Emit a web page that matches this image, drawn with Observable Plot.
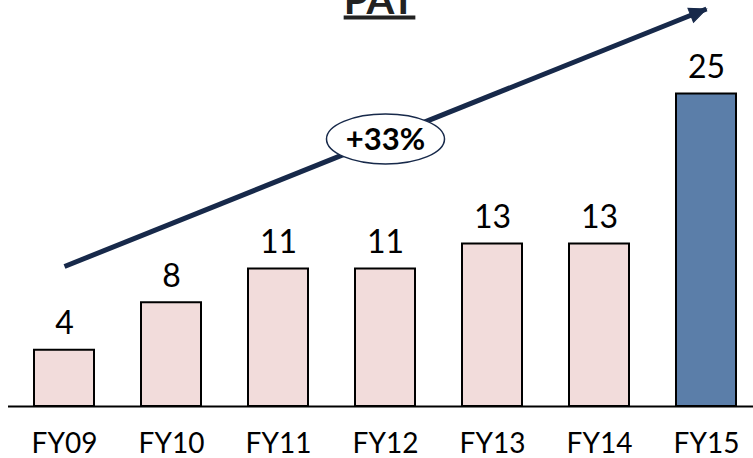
<!DOCTYPE html>
<html>
<head>
<meta charset="utf-8">
<script src="https://cdn.jsdelivr.net/npm/d3@7"></script>
<script src="https://cdn.jsdelivr.net/npm/@observablehq/plot@0.6"></script>
<style>
  html, body { margin: 0; padding: 0; background: #fff; }
  #chart svg { display: block; }
</style>
</head>
<body>
<div id="chart"></div>
<script>
// Data
const years = ["FY09", "FY10", "FY11", "FY12", "FY13", "FY14", "FY15"];
const pat = [4.5, 8.3, 11, 11, 13, 13, 25];
const patLabels = ["4", "8", "11", "11", "13", "13", "25"];
const highlightYear = "FY15";
const titleText = "PAT";
const growthText = "+33%";
// Growth arrow annotation (from FY09 to FY15, in PAT units)
const arrowFrom = ["FY09", 11.2];
const arrowTo = ["FY15", 31.8];
const badgePos = ["FY12", 21.4];

const rows = years.map((y, i) => ({year: y, value: pat[i], label: patLabels[i]}));

const navy = "#17294a";
const font = "Lato, 'Open Sans', sans-serif";

const W = 753, H = 458, mL = 8, mR = 0, mT = 0, mB = 52;
const xOpts = {domain: years, range: [9.33, 760.67], paddingInner: 0.44, paddingOuter: 0.22, align: 0.5};
const yOpts = {domain: [0, 32.48], range: [H - mB, mT]};

// angle of the arrow, from the same scales
const xs = Plot.scale({x: {type: "band", ...xOpts}});
const ys = Plot.scale({y: {type: "linear", ...yOpts}});
const bw = xs.bandwidth / 2;
const ax1 = xs.apply(arrowFrom[0]) + bw, ay1 = ys.apply(arrowFrom[1]);
const ax2 = xs.apply(arrowTo[0]) + bw, ay2 = ys.apply(arrowTo[1]);
const angleDeg = Math.atan2(ay2 - ay1, ax2 - ax1) * 180 / Math.PI;

// ellipse symbol
const ellipseSymbol = {
  draw(ctx) {
    const rx = 59, ry = 25, k = 0.5522848;
    ctx.moveTo(rx, 0);
    ctx.bezierCurveTo(rx, ry * k, rx * k, ry, 0, ry);
    ctx.bezierCurveTo(-rx * k, ry, -rx, ry * k, -rx, 0);
    ctx.bezierCurveTo(-rx, -ry * k, -rx * k, -ry, 0, -ry);
    ctx.bezierCurveTo(rx * k, -ry, rx, -ry * k, rx, 0);
    ctx.closePath();
  }
};
// arrowhead symbol: tip at origin, pointing right
const headSymbol = {
  draw(ctx) {
    ctx.moveTo(0, 0);
    ctx.lineTo(-17, -7.5);
    ctx.lineTo(-17, 7.5);
    ctx.closePath();
  }
};

const chart = Plot.plot({
  width: W,
  height: H,
  marginLeft: mL,
  marginRight: mR,
  marginTop: mT,
  marginBottom: mB,
  style: {fontFamily: font, background: "#fff", overflow: "hidden"},
  x: {...xOpts, label: null, axis: null},
  y: {domain: yOpts.domain, axis: null},
  marks: [
    Plot.barY(rows, {
      x: "year", y: "value",
      fill: d => d.year === highlightYear ? "#5b7ea9" : "#f2dcdb",
      stroke: "#000", strokeWidth: 2
    }),
    Plot.ruleY([0], {stroke: "#000", strokeWidth: 2}),
    Plot.text(rows, {
      x: "year", y: "value", text: "label",
      dy: -16, lineAnchor: "bottom",
      fontSize: 32, fill: "#000"
    }),
    Plot.text(rows, {
      x: "year", text: "year",
      frameAnchor: "bottom", dy: 38, lineAnchor: "middle",
      fontSize: 28, fill: "#000"
    }),
    Plot.link([{x1: arrowFrom[0], y1: arrowFrom[1], x2: arrowTo[0], y2: arrowTo[1]}], {
      x1: "x1", y1: "y1", x2: "x2", y2: "y2",
      stroke: navy, strokeWidth: 5
    }),
    Plot.dot([{x: arrowTo[0], y: arrowTo[1]}], {
      x: "x", y: "y", symbol: headSymbol, r: 10, rotate: angleDeg,
      fill: navy, stroke: navy, strokeWidth: 1
    }),
    Plot.dot([{x: badgePos[0], y: badgePos[1]}], {
      x: "x", y: "y", symbol: ellipseSymbol, r: 10,
      fill: "#fff", stroke: navy, strokeWidth: 1.5
    }),
    Plot.text([{x: badgePos[0], y: badgePos[1], t: growthText}], {
      x: "x", y: "y", text: "t", fontWeight: "bold", fontSize: 31, fill: "#000", dy: 1
    }),
    Plot.text([titleText], {
      text: d => d, frameAnchor: "top", dy: 13, dx: -1.5, lineAnchor: "bottom",
      fontSize: 40, fontWeight: "bold", fill: "#222"
    })
  ]
});

d3.select(chart).selectAll("text").filter(function() { return this.textContent === titleText; })
  .style("text-decoration", "underline");

document.getElementById("chart").appendChild(chart);
</script>
</body>
</html>
